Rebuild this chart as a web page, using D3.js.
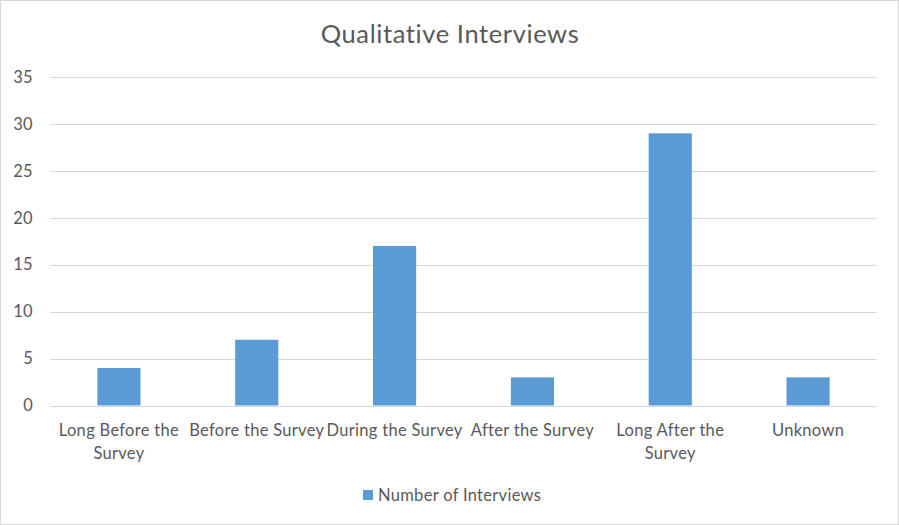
<!DOCTYPE html>
<html>
<head>
<meta charset="utf-8">
<script src="https://cdn.jsdelivr.net/npm/d3@7"></script>
<style>
  html, body { margin: 0; padding: 0; background: #fff; }
  svg { display: block; font-family: Lato, "Open Sans", sans-serif; }
</style>
</head>
<body>
<svg id="chart" width="899" height="525"></svg>
<script>
const title = "Qualitative Interviews";
const categories = ["Long Before the Survey", "Before the Survey", "During the Survey", "After the Survey", "Long After the Survey", "Unknown"];
const values = [4, 7, 17, 3, 29, 3];
const seriesName = "Number of Interviews";
const yTicks = [0, 5, 10, 15, 20, 25, 30, 35];

const W = 899, H = 525;
const margin = { left: 50, right: 22, top: 77, bottom: 119.5 };
const svg = d3.select("#chart");

svg.append("rect").attr("x", 0.5).attr("y", 0.5).attr("width", W - 1).attr("height", H - 1)
  .attr("fill", "#fff").attr("stroke", "#d9d9d9");

const x = d3.scaleBand().domain(categories).range([margin.left, W - margin.right]).padding(0);
const y = d3.scaleLinear().domain([0, 35]).range([H - margin.bottom, margin.top]);

// gridlines
svg.append("g").selectAll("line").data(yTicks).join("line")
  .attr("x1", margin.left).attr("x2", W - margin.right)
  .attr("y1", d => Math.round(y(d)) + 0.5).attr("y2", d => Math.round(y(d)) + 0.5)
  .attr("stroke", "#d9d9d9").attr("stroke-width", 1);

// y labels
svg.append("g").selectAll("text").data(yTicks).join("text")
  .attr("x", 33).attr("y", d => y(d)).attr("dy", "0.35em")
  .attr("text-anchor", "end").attr("font-size", 16.5).attr("letter-spacing", 0.3).attr("fill", "#595959")
  .text(d => d);

// bars
const bw = x.bandwidth() * 0.313;
svg.append("g").selectAll("rect").data(values).join("rect")
  .attr("x", (d, i) => x(categories[i]) + (x.bandwidth() - bw) / 2)
  .attr("width", bw)
  .attr("y", d => y(d))
  .attr("height", d => y(0) - y(d))
  .attr("fill", "#5b9bd5");

// x labels with wrap
const xl = svg.append("g");
categories.forEach(c => {
  const t = xl.append("text").attr("text-anchor", "middle").attr("font-size", 16.5)
    .attr("letter-spacing", 0.3).attr("fill", "#595959")
    .attr("x", x(c) + x.bandwidth() / 2).attr("y", 436);
  const words = c.split(" ");
  let line = [], lines = [];
  const probe = t.append("tspan");
  words.forEach(w => {
    const test = line.concat([w]).join(" ");
    probe.text(test);
    if (probe.node().getComputedTextLength() > x.bandwidth() + 6 && line.length) {
      lines.push(line.join(" "));
      line = [w];
    } else line.push(w);
  });
  lines.push(line.join(" "));
  probe.remove();
  lines.forEach((l, i) => {
    t.append("tspan").attr("x", x(c) + x.bandwidth() / 2).attr("dy", i === 0 ? 0 : 23).text(l);
  });
});

// title
svg.append("text").attr("x", 450).attr("y", 43).attr("text-anchor", "middle")
  .attr("font-size", 25.5).attr("letter-spacing", 0.6).attr("fill", "#595959").text(title);

// legend
const lg = svg.append("g");
lg.append("rect").attr("x", 363).attr("y", 490).attr("width", 10).attr("height", 10).attr("fill", "#5b9bd5");
lg.append("text").attr("x", 378).attr("y", 495).attr("dy", "0.35em").attr("font-size", 16.5)
  .attr("letter-spacing", 0.3).attr("fill", "#595959").text(seriesName);
</script>
</body>
</html>
